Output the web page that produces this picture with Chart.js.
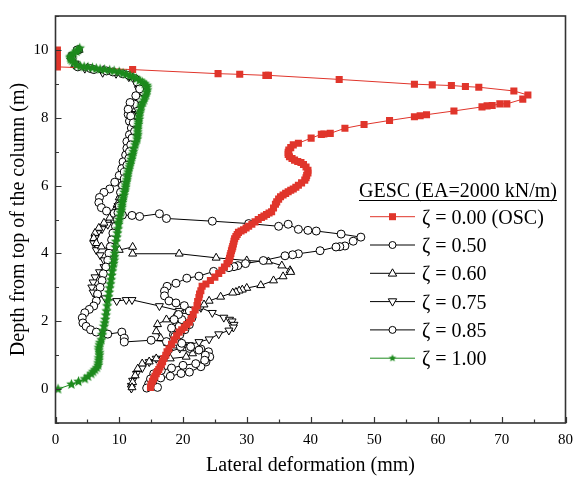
<!DOCTYPE html>
<html>
<head>
<meta charset="utf-8">
<script src="https://cdn.jsdelivr.net/npm/chart.js@4.4.1/dist/chart.umd.min.js"></script>
<style>
  html, body { margin: 0; padding: 0; background: #fff; }
  #wrap { width: 581px; height: 480px; }
</style>
</head>
<body>
<div id="wrap"><canvas id="c" width="581" height="480"></canvas></div>
<script>
// Lateral deformation (mm) vs depth from top of column (m), [x, y] pairs

const osc000 = [[0.3,10.0],[0.3,9.9],[0.3,9.8],[0.3,9.7],[0.3,9.6],[0.3,9.5],[12.1,9.42],[25.5,9.3],[28.9,9.28],[33.0,9.25],[33.4,9.25],
  [44.5,9.13],[56.3,8.99],[59.1,8.97],[62.1,8.95],[64.3,8.92],[66.4,8.9],[71.9,8.79],[74.1,8.67],[73.3,8.55],[70.8,8.41],[69.7,8.41],
  [68.5,8.36],[67.7,8.35],[66.9,8.32],[62.5,8.2],[58.2,8.09],[57.2,8.06],[56.3,8.03],[52.4,7.92],[48.4,7.8],[45.4,7.69],[43.1,7.54],
  [42.1,7.52],[41.7,7.51],[40.1,7.4],[38.1,7.25],[37.3,7.2],[36.9,7.12],[36.6,7.05],[36.5,6.98],[36.5,6.92],[36.7,6.85],[37.1,6.8],
  [37.5,6.75],[38.0,6.71],[38.5,6.68],[38.9,6.62],[39.3,6.55],[39.6,6.45],[39.6,6.37],[39.4,6.3],[39.3,6.23],[39.1,6.16],[38.6,6.08],
  [38.1,6.01],[37.7,5.95],[37.3,5.9],[36.9,5.86],[36.5,5.82],[36.1,5.77],[35.7,5.72],[35.3,5.67],[35.0,5.6],[34.7,5.52],[34.5,5.45],
  [34.2,5.34],[33.9,5.23],[33.5,5.19],[33.1,5.15],[32.7,5.1],[32.3,5.06],[31.8,5.0],[31.3,4.93],[30.8,4.86],[30.3,4.8],[29.9,4.75],
  [29.5,4.7],[29.1,4.66],[28.7,4.62],[28.5,4.56],[28.3,4.5],[28.1,4.43],[28.0,4.36],[27.9,4.28],[27.8,4.2],[27.7,4.14],[27.6,4.08],
  [27.5,4.0],[27.4,3.93],[27.3,3.86],[27.2,3.79],[26.9,3.7],[26.5,3.6],[26.1,3.5],[25.6,3.41],[25.0,3.3],[24.3,3.2],[23.6,3.1],
  [23.0,3.03],[22.8,2.9],[22.6,2.8],[22.5,2.7],[22.3,2.58],[22.2,2.46],[21.9,2.33],[21.6,2.2],[21.3,2.08],[21.0,1.97],[20.6,1.9],
  [20.2,1.82],[19.8,1.75],[19.4,1.68],[19.0,1.57],[18.6,1.45],[18.2,1.32],[17.8,1.19],[17.5,1.1],[17.3,1.0],[17.0,0.9],[16.8,0.81],
  [16.6,0.73],[16.4,0.65],[16.2,0.58],[16.0,0.52],[15.8,0.45],[15.6,0.38],[15.4,0.3],[15.2,0.23],[15.0,0.14],[14.9,0.05]];

const gesc050 = [[3.6,10.0],[2.5,9.8],[3.2,9.55],[5.5,9.45],[8.0,9.38],[10.5,9.3],[12.5,9.15],[13.6,8.95],[13.8,8.75],[13.3,8.55],
  [12.4,8.4],[11.6,8.3],[11.4,8.1],[11.6,7.9],[11.9,7.7],[11.6,7.5],[11.2,7.3],[11.2,7.1],[11.0,6.9],[10.6,6.7],[10.4,6.5],[10.0,6.3],
  [9.3,6.1],[8.5,5.9],[7.6,5.8],[6.9,5.65],[6.8,5.5],[7.2,5.35],[8.0,5.25],[9.2,5.18],[10.5,5.13],[12.0,5.12],[13.2,5.09],[16.3,5.17],
  [17.4,5.03],[24.6,4.95],[30.3,4.88],[35.0,4.8],[36.5,4.86],[38.1,4.71],[39.6,4.68],[40.9,4.66],[44.8,4.57],[47.9,4.48],[46.7,4.36],
  [45.4,4.22],[44.6,4.2],[44.0,4.19],[41.5,4.08],[38.1,3.99],[37.2,3.96],[36.0,3.93],[32.6,3.79],[29.8,3.7],[28.6,3.64],[28.0,3.61],
  [27.2,3.58],[24.8,3.47],[22.5,3.33],[20.6,3.27],[18.9,3.12],[17.5,3.03],[17.1,2.89],[17.1,2.75],[17.8,2.6],[18.9,2.54],[20.2,2.46],
  [21.0,2.3],[21.4,2.1],[21.0,1.9],[20.3,1.75],[19.5,1.6],[19.0,1.4],[19.6,1.25],[21.0,1.2],[22.8,1.18],[24.0,1.1],[24.2,0.95],
  [23.6,0.8],[22.8,0.66],[21.0,0.5],[19.7,0.46],[18.0,0.38],[16.5,0.33],[15.2,0.25],[14.6,0.15],[14.3,0.03]];

const gesc060 = [[3.7,10.0],[2.4,9.8],[3.0,9.55],[5.0,9.47],[7.5,9.4],[10.0,9.32],[12.0,9.2],[13.3,9.0],[13.5,8.8],[13.0,8.6],
  [12.3,8.45],[12.0,8.25],[12.3,8.05],[12.6,7.85],[12.4,7.65],[12.2,7.45],[12.0,7.25],[11.9,7.05],[11.5,6.85],[11.2,6.65],[10.9,6.45],
  [10.6,6.25],[10.4,6.05],[10.2,5.85],[10.0,5.65],[9.7,5.45],[9.2,5.25],[8.5,5.05],[7.6,4.9],[6.8,4.75],[6.2,4.6],[6.0,4.45],[6.4,4.3],
  [7.2,4.2],[8.4,4.12],[10.0,4.1],[12.1,4.19],[12.1,3.99],[19.4,3.99],[25.2,3.87],[30.0,3.79],[33.4,3.76],[35.5,3.64],[36.8,3.5],
  [36.9,3.45],[35.7,3.32],[34.2,3.2],[32.2,3.06],[30.0,2.98],[29.3,2.93],[28.8,2.9],[28.3,2.86],[27.8,2.84],[25.9,2.72],[24.1,2.6],
  [23.3,2.49],[22.3,2.4],[20.5,2.3],[18.8,2.15],[17.4,2.05],[16.0,1.91],[15.8,1.7],[16.5,1.5],[17.6,1.35],[19.0,1.28],[20.5,1.2],
  [21.5,1.05],[20.5,0.95],[18.0,0.9],[15.8,0.9],[14.7,0.81],[13.6,0.75],[12.9,0.6],[12.5,0.4],[12.1,0.2],[12.0,0.05]];

const gesc075 = [[3.5,10.0],[2.7,9.85],[3.1,9.6],[4.6,9.45],[7.4,9.33],[9.5,9.3],[11.5,9.2],[12.7,9.05],[13.0,8.85],[12.8,8.65],
  [12.5,8.45],[12.6,8.25],[12.9,8.05],[12.9,7.85],[12.6,7.6],[12.3,7.4],[12.2,7.2],[12.0,7.0],[11.7,6.8],[11.4,6.6],[11.3,6.4],
  [11.0,6.2],[10.7,6.0],[10.5,5.8],[10.2,5.6],[9.8,5.4],[9.5,5.2],[9.0,5.0],[8.2,4.85],[7.3,4.72],[6.6,4.6],[6.2,4.45],[6.0,4.3],
  [6.4,4.1],[7.0,3.95],[7.6,3.8],[7.6,3.6],[6.9,3.45],[6.2,3.3],[5.9,3.15],[5.7,3.0],[5.9,2.85],[6.6,2.75],[7.8,2.68],[9.6,2.6],
  [11.1,2.63],[12.0,2.63],[16.3,2.45],[19.4,2.31],[21.0,2.35],[22.8,2.4],[24.6,2.25],[26.4,2.11],[27.3,2.05],[27.7,2.0],[28.0,1.9],
  [27.9,1.82],[27.2,1.73],[25.6,1.62],[24.1,1.47],[22.5,1.39],[21.0,1.3],[19.5,1.2],[17.8,1.1],[15.8,0.9],[14.7,0.8],[13.6,0.62],
  [12.7,0.45],[12.1,0.25],[11.9,0.1],[11.9,0.02]];

const gesc085 = [[3.4,10.0],[2.6,9.75],[3.5,9.5],[6.0,9.42],[9.0,9.35],[11.5,9.25],[12.8,9.05],[13.2,8.85],[12.6,8.65],[11.7,8.45],
  [11.4,8.25],[11.8,8.05],[12.2,7.85],[12.4,7.6],[12.0,7.4],[11.8,7.2],[11.6,7.0],[11.5,6.8],[11.2,6.6],[10.8,6.4],[10.8,6.2],
  [10.5,6.0],[10.2,5.8],[10.4,5.6],[10.0,5.4],[9.8,5.2],[9.7,5.0],[9.4,4.8],[9.0,4.6],[8.8,4.4],[8.6,4.2],[8.4,4.0],[8.2,3.8],
  [7.9,3.6],[7.5,3.4],[7.3,3.2],[7.0,3.0],[6.6,2.8],[6.4,2.6],[6.0,2.45],[5.3,2.35],[4.6,2.25],[4.2,2.1],[4.3,1.95],[4.8,1.85],
  [5.5,1.75],[6.4,1.68],[8.2,1.62],[10.4,1.68],[10.8,1.5],[10.8,1.39],[15.0,1.44],[17.4,1.4],[18.5,1.6],[19.4,1.85],[19.8,2.05],
  [19.3,2.2],[18.6,2.05],[18.2,1.8],[18.7,1.55],[19.8,1.35],[21.2,1.25],[22.5,1.15],[23.5,1.0],[23.4,0.85],[22.0,0.75],[20.0,0.7],
  [18.2,0.62],[16.6,0.55],[15.4,0.45],[14.9,0.3],[15.3,0.12],[16.0,0.05]];

const gesc100 = [[3.8,10.05],[3.5,10.0],[3.3,9.95],[2.9,9.9],[2.6,9.85],[2.4,9.8],[2.3,9.77],[2.4,9.72],[2.6,9.68],[2.9,9.62],
  [3.3,9.55],[3.9,9.52],[4.5,9.5],[5.1,9.49],[5.8,9.47],[6.4,9.45],[7.0,9.43],[7.7,9.42],[8.5,9.4],[9.2,9.38],[10.0,9.35],
  [10.6,9.31],[11.1,9.28],[11.7,9.24],[12.2,9.2],[12.7,9.15],[13.2,9.1],[13.6,9.05],[14.0,9.0],[14.3,8.95],[14.4,8.9],[14.4,8.82],
  [14.3,8.75],[14.2,8.67],[14.0,8.6],[13.9,8.52],[13.7,8.45],[13.5,8.37],[13.4,8.3],[13.3,8.2],[13.2,8.12],[13.1,8.03],[13.1,7.95],
  [13.0,7.87],[13.0,7.8],[12.9,7.73],[12.9,7.66],[12.9,7.58],[12.9,7.5],[12.8,7.44],[12.8,7.37],[12.6,7.28],[12.5,7.2],[12.3,7.1],
  [12.2,7.0],[12.1,6.92],[12.0,6.85],[11.9,6.77],[11.8,6.7],[11.7,6.62],[11.6,6.55],[11.5,6.47],[11.4,6.4],[11.3,6.32],[11.3,6.25],
  [11.2,6.17],[11.1,6.1],[11.0,6.02],[11.0,5.95],[10.9,5.87],[10.8,5.8],[10.7,5.71],[10.6,5.63],[10.5,5.56],[10.5,5.5],[10.4,5.42],
  [10.4,5.35],[10.3,5.27],[10.2,5.2],[10.1,5.1],[10.0,5.0],[9.9,4.92],[9.9,4.85],[9.8,4.72],[9.7,4.6],[9.6,4.48],[9.5,4.35],
  [9.4,4.18],[9.3,4.0],[9.25,3.9],[9.2,3.8],[9.1,3.7],[9.0,3.6],[8.9,3.48],[8.8,3.35],[8.7,3.22],[8.6,3.1],[8.5,2.98],[8.4,2.85],
  [8.3,2.72],[8.2,2.6],[8.1,2.45],[8.0,2.3],[7.9,2.18],[7.8,2.05],[7.7,1.95],[7.6,1.85],[7.45,1.72],[7.3,1.6],[7.2,1.45],[7.0,1.37],
  [6.9,1.3],[6.8,1.22],[6.8,1.15],[6.9,1.07],[6.9,1.0],[6.8,0.92],[6.8,0.85],[6.7,0.77],[6.7,0.7],[6.5,0.63],[6.2,0.57],[5.9,0.51],
  [5.6,0.45],[5.1,0.37],[4.6,0.3],[3.6,0.22],[2.5,0.14],[0.4,0.0]];

const xTicks = [0, 10, 20, 30, 40, 50, 60, 70, 80];
const yTicks = [0, 2, 4, 6, 8, 10];
const legendTitle = 'GESC (EA=2000 kN/m)';
const labels = ['ζ = 0.00 (OSC)', 'ζ = 0.50', 'ζ = 0.60', 'ζ = 0.75', 'ζ = 0.85', 'ζ = 1.00'];

const RED = '#e0352b';
const GREEN = '#1d8a1d';
const SERIF = '"Liberation Serif", "Times New Roman", serif';

function starImage(r, color) {
  const c = document.createElement('canvas');
  c.width = c.height = Math.ceil(r * 2) + 2;
  const g = c.getContext('2d');
  const cx = c.width / 2, cy = c.height / 2;
  g.beginPath();
  for (let i = 0; i < 10; i++) {
    const rr = i % 2 ? r * 0.45 : r;
    const a = -Math.PI / 2 + i * Math.PI / 5;
    g.lineTo(cx + rr * Math.cos(a), cy + rr * Math.sin(a));
  }
  g.closePath();
  g.fillStyle = color;
  g.fill();
  return c;
}
const STAR = starImage(5.5, GREEN);
const STAR_SMALL = starImage(4, GREEN);

const pts = arr => arr.map(([x, y]) => ({ x, y }));
const blackSet = (label, data, style, r, rot, order) => ({
  label, data: pts(data), showLine: true, borderColor: '#000', borderWidth: 1,
  pointStyle: style, pointRadius: r, pointRotation: rot, pointBackgroundColor: '#fff',
  pointBorderColor: '#000', pointBorderWidth: 1, order,
});

const datasets = [
  { label: labels[0], data: pts(osc000), showLine: true, borderColor: RED, borderWidth: 1,
    pointStyle: 'rect', pointRadius: 5, pointBackgroundColor: RED, pointBorderColor: RED, pointBorderWidth: 0, order: 1 },
  blackSet(labels[1], gesc050, 'circle', 4, 0, 3),
  blackSet(labels[2], gesc060, 'triangle', 4.6, 0, 4),
  blackSet(labels[3], gesc075, 'triangle', 4.6, 180, 5),
  blackSet(labels[4], gesc085, 'circle', 4, 0, 2),
  { label: labels[5], data: pts(gesc100), showLine: true, borderColor: GREEN, borderWidth: 1,
    pointStyle: STAR, pointRadius: 5, order: 0 },
];

// legend marker drawing (own version so it stays small)
function mark(ctx, kind, x, y) {
  ctx.save();
  ctx.lineWidth = 1;
  ctx.beginPath();
  if (kind === 'rect') {
    ctx.fillStyle = RED; ctx.fillRect(x - 3.5, y - 3.5, 7, 7);
  } else if (kind === 'circle') {
    ctx.arc(x, y, 3.5, 0, Math.PI * 2); ctx.fillStyle = '#fff'; ctx.fill(); ctx.strokeStyle = '#000'; ctx.stroke();
  } else if (kind === 'up' || kind === 'down') {
    const s = kind === 'up' ? 1 : -1;
    ctx.moveTo(x, y - 4.5 * s); ctx.lineTo(x + 4.2, y + 2.8 * s); ctx.lineTo(x - 4.2, y + 2.8 * s); ctx.closePath();
    ctx.fillStyle = '#fff'; ctx.fill(); ctx.strokeStyle = '#000'; ctx.stroke();
  } else if (kind === 'star') {
    ctx.drawImage(STAR_SMALL, x - STAR_SMALL.width / 2, y - STAR_SMALL.height / 2);
  }
  ctx.restore();
}

const decor = {
  id: 'decor',
  afterDraw(chart) {
    const { ctx, chartArea: a, scales: { x, y } } = chart;
    ctx.save();
    // inward ticks on bottom and left
    ctx.strokeStyle = '#333';
    ctx.lineWidth = 1.2;
    ctx.beginPath();
    for (let v = 0; v <= 80; v += 5) {
      const px = Math.round(x.getPixelForValue(v)) + 0.5;
      const len = xTicks.includes(v) ? 6 : 3.5;
      ctx.moveTo(px, a.bottom); ctx.lineTo(px, a.bottom - len);
    }
    for (let v = -1; v <= 11; v++) {
      const py = Math.round(y.getPixelForValue(v)) + 0.5;
      const len = yTicks.includes(v) ? 6 : 3.5;
      ctx.moveTo(a.left, py); ctx.lineTo(a.left + len, py);
    }
    ctx.stroke();
    // frame
    ctx.lineWidth = 1.6;
    ctx.strokeRect(a.left, a.top, a.right - a.left, a.bottom - a.top);

    // axis titles
    ctx.fillStyle = '#000';
    ctx.font = '20px ' + SERIF;
    ctx.textAlign = 'center';
    ctx.textBaseline = 'middle';
    ctx.fillText('Lateral deformation (mm)', (a.left + a.right) / 2, 466);
    ctx.save();
    ctx.translate(19, (a.top + a.bottom) / 2);
    ctx.rotate(-Math.PI / 2);
    ctx.fillText('Depth from top of the column (m)', 0, 0);
    ctx.restore();

    // legend
    ctx.textAlign = 'left';
    ctx.textBaseline = 'alphabetic';
    ctx.fillText(legendTitle, 359, 197);
    const tw = ctx.measureText(legendTitle).width;
    ctx.lineWidth = 1;
    ctx.strokeStyle = '#000';
    ctx.beginPath(); ctx.moveTo(359, 200.5); ctx.lineTo(359 + tw, 200.5); ctx.stroke();
    const kinds = ['rect', 'circle', 'up', 'down', 'circle', 'star'];
    const lineCol = [RED, '#000', '#000', '#000', '#000', GREEN];
    labels.forEach((lab, i) => {
      const ly = 216.7 + i * 28.3;
      ctx.strokeStyle = lineCol[i];
      ctx.beginPath(); ctx.moveTo(370, ly); ctx.lineTo(415, ly); ctx.stroke();
      mark(ctx, kinds[i], 392.5, ly);
      ctx.fillStyle = '#000';
      ctx.fillText(lab, 422, ly + 7);
    });
    ctx.restore();
  },
};

new Chart(document.getElementById('c'), {
  type: 'scatter',
  data: { datasets },
  options: {
    responsive: false,
    animation: false,
    layout: { padding: { top: 6, right: 12, left: 0, bottom: 0 } },
    plugins: { legend: { display: false }, tooltip: { enabled: false } },
    scales: {
      x: {
        type: 'linear', min: 0, max: 80,
        grid: { display: false, drawTicks: false }, border: { display: false },
        ticks: { stepSize: 5, autoSkip: false, maxRotation: 0, padding: 8, color: '#000',
          font: { family: SERIF, size: 15 }, callback: v => xTicks.includes(v) ? String(v) : '' },
        afterFit: s => { s.height = 57; },
      },
      y: {
        type: 'linear', min: -1, max: 11,
        grid: { display: false, drawTicks: false }, border: { display: false },
        ticks: { stepSize: 1, autoSkip: false, padding: 7, color: '#000',
          font: { family: SERIF, size: 15 }, callback: v => yTicks.includes(v) ? String(v) : '' },
        afterFit: s => { s.width = 55.5; },
      },
    },
  },
  plugins: [decor],
});
</script>
</body>
</html>
